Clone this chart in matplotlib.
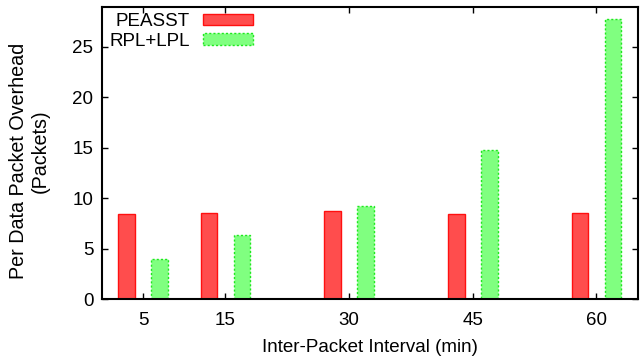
import numpy as np
import matplotlib
matplotlib.use("Agg")
import matplotlib.pyplot as plt

intervals = [5, 15, 30, 45, 60]
peasst = [8.42, 8.54, 8.74, 8.42, 8.52]
rpl_lpl = [3.99, 6.4, 9.24, 14.75, 27.8]
yticks = [0, 5, 10, 15, 20, 25]

plt.rcParams['font.family'] = ['Liberation Sans', 'DejaVu Sans']
plt.rcParams['font.size'] = 13.5

fig = plt.figure(figsize=(6.41, 3.56), dpi=100)
ax = fig.add_axes([0.1587, 0.1593, 0.9949 - 0.1587, 0.9817 - 0.1593])

x = np.array(intervals, dtype=float)
ax.bar(x - 2, peasst, width=2, color='#ff4d4d', edgecolor='#ff1010',
       linewidth=1.0, label='PEASST')
ax.bar(x + 2, rpl_lpl, width=2, color='#80ff80', edgecolor='#1ee81e',
       linewidth=1.0, linestyle=(0, (1.5, 1.5)), label='RPL+LPL')

ax.set_xlim(0, 65)
ax.set_ylim(0, 29)
ax.set_xticks(intervals)
ax.set_yticks(yticks)
ax.tick_params(direction='in', length=4, width=1, top=True, right=True,
               labelsize=13.5)
ax.tick_params(axis='x', pad=9)
ax.tick_params(axis='y', pad=6)
for s in ax.spines.values():
    s.set_linewidth(1.5)

ax.set_xlabel('Inter-Packet Interval (min)', labelpad=7)

# two-line y label, each line centred on its own like gnuplot does
fig.text(19 / 641, 1 - 161 / 356, 'Per Data Packet Overhead', rotation=90,
         ha='center', va='center', fontsize=14.2)
fig.text(40 / 641, 1 - 151 / 356, '(Packets)', rotation=90,
         ha='center', va='center', fontsize=14.2)

leg = ax.legend(loc='upper left', bbox_to_anchor=(0.0, 1.003), frameon=False,
                markerfirst=False, handlelength=2.7, handleheight=0.55,
                handletextpad=0.7, labelspacing=0.14, fontsize=13.5,
                borderaxespad=0.0)

fig.savefig('out.png', dpi=100)
